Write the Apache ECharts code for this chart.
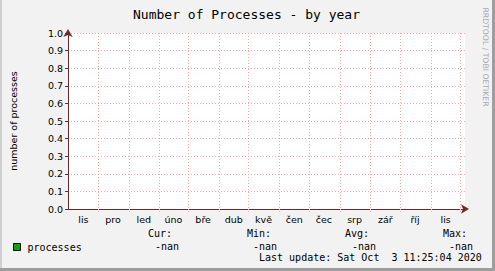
<!DOCTYPE html>
<html>
<head>
<meta charset="utf-8">
<script src="https://cdn.jsdelivr.net/npm/echarts@6/dist/echarts.min.js"></script>
<style>
html,body{margin:0;padding:0;background:#f2f2f2;}
#chart{width:495px;height:271px;}
</style>
</head>
<body>
<div id="chart"></div>
<script>
// ---- data ----
const chartTitle = 'Number of Processes - by year';
const yAxisName = 'number of processes';
const seriesName = 'processes';
const monthNames = ['led','úno','bře','dub','kvě','čen','čec','srp','zář','říj','lis','pro'];
const axisStart = '2019-10-31T12:00:00';
const axisEnd = '2020-12-05T12:00:00';
const monthStarts = ['2019-12-01','2020-01-01','2020-02-01','2020-03-01','2020-04-01','2020-05-01','2020-06-01','2020-07-01','2020-08-01','2020-09-01','2020-10-01','2020-11-01','2020-12-01'];
const monthLabelDates = ['2019-11-16','2019-12-16','2020-01-16','2020-02-15','2020-03-16','2020-04-16','2020-05-16','2020-06-16','2020-07-16','2020-08-16','2020-09-16','2020-10-16','2020-11-16'];
const yTicks = [0,0.1,0.2,0.3,0.4,0.5,0.6,0.7,0.8,0.9,1.0];
const sampleDates = ['2019-11-01','2020-02-01','2020-05-01','2020-08-01','2020-10-03'];
const processesValues = [null,null,null,null,null];
const statLabels = ['Cur:','Min:','Avg:','Max:'];
const statValues = ['-nan','-nan','-nan','-nan'];
const lastUpdate = 'Last update: Sat Oct\u00a0 3 11:25:04 2020';
const watermark = 'RRDTOOL / TOBI OETIKER';

// ---- helpers ----
function ts(s){ const p = s.split(/[-T:]/).map(Number); return new Date(p[0], p[1]-1, p[2], p[3]||0, p[4]||0, p[5]||0).getTime(); }

const chart = echarts.init(document.getElementById('chart'), null, {renderer:'svg'});
const mono = "'DejaVu Sans Mono', monospace";
const sans = "'DejaVu Sans', sans-serif";
const axisCol = '#6b2a2a';
const gridCol = '#ffa6a6';

const statX = [148, 247, 345, 443];
const statValX = [155, 253, 352, 449];

const graphics = [
  {type:'rect', shape:{x:0,y:0,width:2,height:271}, style:{fill:'#cfcfcf'}, silent:true},
  {type:'rect', shape:{x:0,y:268,width:495,height:3}, style:{fill:'#9e9e9e'}, silent:true},
  {type:'rect', shape:{x:492,y:0,width:3,height:271}, style:{fill:'#9e9e9e'}, silent:true},
  {type:'text', x:246.5, y:14, style:{text:chartTitle, font:'13px '+mono, fill:'#000', align:'center', verticalAlign:'middle'}},
  {type:'text', x:485.5, y:57, rotation:-Math.PI/2, style:{text:watermark, font:'7.7px '+sans, fill:'#ababab', align:'center', verticalAlign:'middle'}},
  {type:'text', x:259, y:257.5, style:{text:lastUpdate, font:'10px '+mono, fill:'#000', align:'left', verticalAlign:'middle'}}
];
statLabels.forEach((t,i)=>{
  graphics.push({type:'text', x:statX[i], y:233.5, style:{text:t, font:'10px '+mono, fill:'#000', align:'left', verticalAlign:'middle'}});
  graphics.push({type:'text', x:statValX[i], y:246, style:{text:statValues[i], font:'10px '+mono, fill:'#000', align:'left', verticalAlign:'middle'}});
});

chart.setOption({
  backgroundColor:'#f2f2f2',
  animation:false,
  grid:{left:64, right:30, top:33, bottom:62, show:true, backgroundColor:'#ffffff', borderWidth:0},
  legend:{
    left:13, top:242, padding:0, itemWidth:7, itemHeight:7, icon:'rect',
    itemStyle:{borderColor:'#000', borderWidth:1},
    textStyle:{fontFamily:mono, fontSize:10, color:'#000', padding:[0,0,0,2]},
    data:[seriesName], selectedMode:false
  },
  xAxis:{
    type:'value', min:ts(axisStart), max:ts(axisEnd),
    axisLine:{show:true, onZero:false, lineStyle:{color:axisCol, width:1}, symbol:['none','arrow'], symbolSize:[7,8], symbolOffset:[0,4]},
    axisTick:{show:true, length:3, lineStyle:{color:gridCol, type:[1,1]}, customValues:monthStarts.map(ts)},
    splitLine:{show:true, lineStyle:{color:gridCol, width:1, type:[1,2]}},
    axisLabel:{customValues:monthLabelDates.map(ts), fontFamily:sans, fontSize:9.5, color:'#000', margin:5,
      formatter:v=>monthNames[new Date(v).getMonth()]}
  },
  yAxis:{
    type:'value', min:yTicks[0], max:yTicks[yTicks.length-1], interval:0.1,
    name:yAxisName, nameLocation:'middle', nameRotate:90, nameGap:50,
    nameTextStyle:{fontFamily:sans, fontSize:9.5, color:'#000'},
    axisLine:{show:true, lineStyle:{color:axisCol, width:1}, symbol:['none','arrow'], symbolSize:[7,8], symbolOffset:[0,4]},
    axisTick:{show:true, length:3, lineStyle:{color:axisCol}},
    splitLine:{show:true, lineStyle:{color:gridCol, width:1, type:[1,2]}},
    axisLabel:{fontFamily:sans, fontSize:9.5, color:'#000', margin:5, formatter:v=>v.toFixed(1)}
  },
  series:[{
    name:seriesName, type:'line', showSymbol:false, connectNulls:false,
    itemStyle:{color:'#00aa00'}, lineStyle:{color:'#00aa00'},
    data:sampleDates.map((d,i)=>[ts(d), processesValues[i]])
  }],
  graphic:graphics
});
</script>
</body>
</html>
